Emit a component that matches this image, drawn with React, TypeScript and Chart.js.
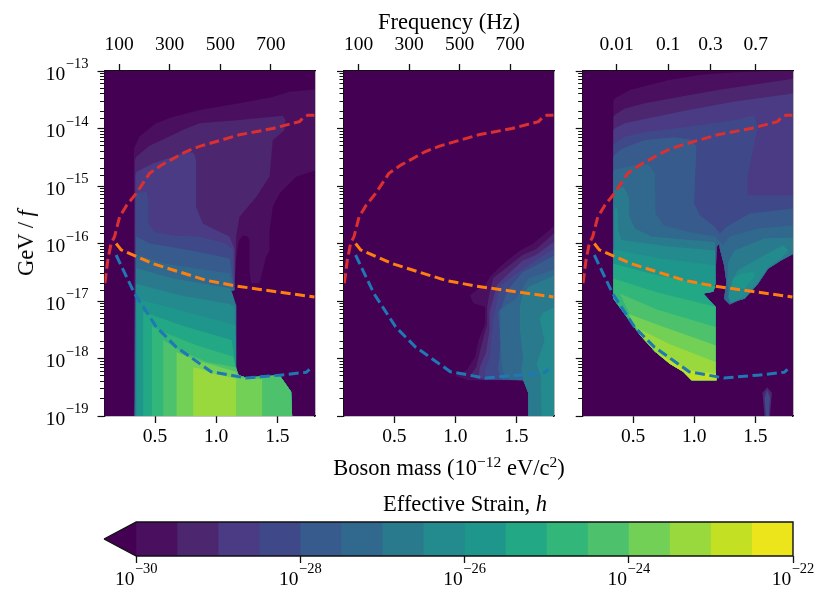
import React, { useEffect, useRef } from "react";
import { Chart, registerables } from "chart.js";
Chart.register(...registerables);

type P = number[];
const FONT = '"Liberation Serif","Times New Roman",serif';
const massRange = [0.087, 1.808];
const hzPerMass = 483.6;
const topHz = [100, 300, 500, 700];
const lifetimeAt = [0.365, 0.786, 1.133, 1.503];
const lifetimeLabels = ["0.01", "0.1", "0.3", "0.7"];
const massTicks = [0.5, 1.0, 1.5];
const couplingDecades = [-13, -14, -15, -16, -17, -18, -19];
const strainTicks = [-30, -28, -26, -24, -22];
const levelColors = ["#440154", "#4b0f5f", "#4c266f", "#4a3b84", "#3f4889", "#375b8d", "#30698d", "#2a7a8e", "#238a8d", "#1f968b", "#22a884", "#33b679", "#4ec16d", "#73d056", "#99d93e", "#c3e022", "#ede51b"];
const cbEdges = [-30, -29.5, -29, -28.5, -28, -27.5, -27, -26.5, -26, -25.5, -25, -24.5, -24, -23.5, -23, -22.5, -22];

const redLimit: P[] = [[0.09, -16.69], [0.114, -16.29], [0.141, -16.0], [0.169, -15.88], [0.21, -15.54], [0.27, -15.33], [0.346, -15.13], [0.455, -14.78], [0.55, -14.64], [0.755, -14.4], [0.864, -14.31], [1.19, -14.11], [1.463, -14.0], [1.681, -13.88], [1.708, -13.82], [1.749, -13.77], [1.803, -13.77]];
const orangeLimit: P[] = [[0.182, -16.0], [0.223, -16.11], [0.482, -16.35], [0.918, -16.64], [1.163, -16.74], [1.803, -16.93]];
const blueLimit: P[] = [[0.182, -16.2], [0.332, -16.87], [0.51, -17.45], [0.673, -17.8], [0.959, -18.23], [1.245, -18.34], [1.518, -18.29], [1.736, -18.24], [1.763, -18.19]];

// Panel 1
const p1Tail: P[] = [[1.15, -16.81], [1.062, -16.87], [1.163, -17.07], [1.163, -18.2], [1.185, -18.29], [1.245, -18.33], [1.518, -18.29], [1.613, -18.58], [1.621, -19]];
const p1Bands: [number, P[]][] = [
  [1, [[0.327, -19], [0.327, -14.35], [0.373, -14.14], [0.509, -13.91], [0.646, -13.8], [0.864, -13.68], [1.19, -13.56], [1.463, -13.45], [1.6, -13.36], [1.82, -13.32], [1.82, -14.72], [1.654, -14.84], [1.518, -15.13], [1.463, -15.36], [1.436, -15.77], [1.436, -16.12], [1.408, -16.23], [1.354, -16.69], [1.286, -16.69], [1.272, -16.46], [1.272, -15.94], [1.259, -15.88], [1.218, -15.86], [1.19, -15.94], [1.177, -16.05], [1.163, -16.29], ...p1Tail]],
  [2, [[0.33, -19], [0.335, -14.55], [0.346, -14.49], [0.455, -14.3], [0.755, -14.0], [0.864, -13.91], [1.19, -13.85], [1.545, -13.78], [1.567, -13.85], [1.558, -14.03], [1.463, -14.2], [1.436, -14.84], [1.327, -15.19], [1.19, -15.54], [1.163, -15.88], [1.16, -16.17], ...p1Tail]],
  [3, [[0.333, -19], [0.34, -14.8], [0.351, -14.75], [0.482, -14.61], [0.646, -14.49], [0.755, -14.4], [0.815, -14.42], [0.836, -14.55], [0.836, -15.36], [0.891, -15.65], [1.0, -15.77], [1.109, -15.88], [1.15, -16.09], ...p1Tail]],
  [4, [[0.333, -19], [0.34, -15.12], [0.433, -15.1], [0.447, -15.3], [0.447, -15.65], [0.496, -15.8], [0.646, -15.86], [0.864, -15.88], [1.08, -16.0], [1.136, -16.11], ...p1Tail]],
  [5, [[0.335, -19], [0.345, -15.88], [0.458, -16.0], [0.8, -16.12], [1.112, -16.26], [1.135, -16.6], ...p1Tail]],
  [6, [[0.335, -19], [0.345, -16.2], [0.595, -16.35], [1.112, -16.52], [1.13, -16.7], ...p1Tail]],
  [7, [[0.335, -19], [0.345, -16.43], [0.649, -16.61], [1.112, -16.78], [1.13, -16.85], ...p1Tail.slice(2)]],
  [8, [[0.345, -19], [0.345, -16.7], [0.704, -16.9], [1.112, -17.05], [1.15, -17.1], ...p1Tail.slice(3)]],
  [9, [[0.35, -19], [0.35, -16.96], [0.704, -17.16], [1.112, -17.39], [1.155, -17.42], ...p1Tail.slice(3)]],
  [10, [[0.404, -19], [0.404, -17.19], [0.758, -17.45], [1.127, -17.68], ...p1Tail.slice(3)]],
  [11, [[0.475, -19], [0.475, -17.44], [0.567, -17.54], [0.84, -17.77], [1.14, -17.97], ...p1Tail.slice(3)]],
  [12, [[0.567, -19], [0.567, -17.68], [0.676, -17.83], [0.922, -18.06], [1.163, -18.15], ...p1Tail.slice(4)]],
  [13, [[0.676, -19], [0.676, -17.89], [0.84, -18.03], [1.163, -18.23], [1.185, -18.33], [1.376, -18.36], [1.376, -19]]],
  [14, [[0.813, -19], [0.813, -18.15], [0.867, -18.18], [0.976, -18.26], [1.163, -18.35], [1.163, -19]]],
];

// Panel 2
const p2Bottom: P[] = [[1.556, -18.38], [1.597, -18.6], [1.597, -19], [1.82, -19]];
const p2Bands: [number, P[]][] = [
  [1, [[1.82, -15.68], [1.638, -16.0], [1.529, -16.12], [1.392, -16.35], [1.283, -16.58], [1.243, -16.72], [1.174, -16.81], [1.12, -16.9], [1.147, -17.04], [1.243, -17.1], [1.243, -17.39], [1.19, -17.68], [1.161, -17.97], [1.093, -18.2], [0.997, -18.3], [1.1, -18.38], ...p2Bottom]],
  [2, [[1.82, -15.8], [1.66, -16.1], [1.55, -16.2], [1.4, -16.45], [1.31, -16.6], [1.28, -16.85], [1.26, -17.1], [1.26, -17.4], [1.21, -17.8], [1.17, -18.15], [1.12, -18.3], [1.2, -18.37], ...p2Bottom]],
  [3, [[1.82, -15.95], [1.66, -16.2], [1.55, -16.3], [1.42, -16.55], [1.34, -16.72], [1.31, -16.95], [1.28, -17.2], [1.28, -17.5], [1.25, -17.9], [1.2, -18.15], [1.19, -18.33], [1.25, -18.37], ...p2Bottom]],
  [4, [[1.82, -16.08], [1.65, -16.3], [1.45, -16.6], [1.36, -16.75], [1.34, -17.0], [1.31, -17.3], [1.3, -17.6], [1.28, -18.0], [1.24, -18.2], [1.25, -18.36], ...p2Bottom]],
  [5, [[1.82, -16.2], [1.55, -16.5], [1.45, -16.75], [1.41, -16.9], [1.38, -17.1], [1.35, -17.2], [1.37, -17.7], [1.35, -18.2], [1.38, -18.37], ...p2Bottom]],
  [6, [[1.82, -16.45], [1.6, -16.6], [1.5, -16.95], [1.37, -17.15], [1.365, -17.6], [1.38, -18.1], [1.4, -18.3], [1.45, -18.36], ...p2Bottom]],
  [7, [[1.82, -16.55], [1.6, -16.75], [1.55, -16.9], [1.529, -17.1], [1.529, -17.5], [1.555, -18.0], [1.54, -18.2], ...p2Bottom]],
  [8, [[1.82, -17.1], [1.72, -17.2], [1.69, -17.3], [1.73, -17.7], [1.665, -18.1], [1.7, -18.3], [1.706, -19], [1.82, -19]]],
];

// Panel 3
const p3Lobe: P[] = [[1.82, -16.17], [1.713, -16.29], [1.604, -16.44], [1.522, -16.7], [1.413, -16.96], [1.359, -16.99], [1.29, -17.06], [1.244, -16.96], [1.263, -16.67], [1.244, -16.38], [1.209, -16.09], [1.205, -16.0], [1.182, -16.06]];
const p3Diag: P[] = [[1.174, -18.2], [1.182, -18.38], [0.978, -18.38], [0.91, -18.23], [0.8, -18.09], [0.678, -17.88], [0.556, -17.59], [0.338, -16.96]];
const p3Notch: P[] = [[1.174, -16.69], [1.155, -16.84], [1.073, -16.87], [1.174, -17.1]];
const p3Bands: [number, P[]][] = [
  [1, [[0.338, -13.5], [0.36, -13.46], [0.473, -13.33], [0.801, -13.15], [1.073, -13.06], [1.346, -13.02], [1.618, -13.0], [1.82, -12.98], ...p3Lobe, ...p3Notch, ...p3Diag]],
  [2, [[0.338, -13.8], [0.345, -13.77], [0.432, -13.65], [0.596, -13.56], [0.95, -13.42], [1.195, -13.33], [1.82, -13.13], ...p3Lobe, ...p3Notch, ...p3Diag]],
  [3, [[0.338, -14.03], [0.345, -14.0], [0.432, -13.91], [0.623, -13.82], [0.95, -13.68], [1.332, -13.53], [1.82, -13.39], ...p3Lobe, ...p3Notch, ...p3Diag]],
  [4, [[0.338, -14.3], [0.345, -14.26], [0.432, -14.14], [0.596, -14.06], [0.95, -13.97], [1.332, -13.85], [1.49, -13.77], [1.52, -13.97], [1.436, -14.84], [1.436, -15.16], [1.82, -15.16], ...p3Lobe, ...p3Notch, ...p3Diag]],
  [5, [[0.338, -14.5], [0.345, -14.46], [0.405, -14.35], [0.596, -14.2], [0.841, -14.15], [0.991, -14.2], [1.018, -14.32], [0.999, -15.3], [1.046, -15.51], [1.168, -15.71], [1.209, -15.83], [1.27, -15.7], [1.455, -15.48], [1.82, -15.39], ...p3Lobe, ...p3Notch, ...p3Diag]],
  [6, [[0.338, -14.75], [0.345, -14.72], [0.487, -14.65], [0.623, -14.62], [0.678, -14.78], [0.683, -15.48], [0.746, -15.68], [0.95, -15.8], [1.17, -15.88], [1.236, -16.03], [1.29, -15.88], [1.522, -15.74], [1.82, -15.68], ...p3Lobe, ...p3Notch, ...p3Diag]],
  [7, [[0.338, -15.09], [0.345, -15.07], [0.419, -15.01], [0.465, -15.19], [0.465, -15.51], [0.514, -15.74], [0.65, -15.88], [1.17, -15.98], ...p3Notch, ...p3Diag]],
  [7, [[1.82, -15.9], [1.577, -15.91], [1.331, -16.12], [1.277, -16.32], [1.27, -16.67], [1.29, -17.04], [1.359, -16.99], [1.413, -16.96], [1.522, -16.7], [1.604, -16.44], [1.713, -16.29], [1.82, -16.17]]],
  [8, [[0.345, -16.9], [0.345, -15.39], [0.37, -15.39], [0.378, -15.77], [0.405, -15.94], [0.8, -16.05], [1.17, -16.12], ...p3Notch, ...p3Diag]],
  [8, [[1.77, -16.12], [1.727, -16.03], [1.55, -16.23], [1.359, -16.46], [1.304, -16.67], [1.277, -16.93], [1.3, -17.03], [1.359, -16.98], [1.41, -16.94], [1.52, -16.68], [1.6, -16.42], [1.71, -16.27]]],
  [9, [[0.338, -16.1], [0.7, -16.25], [1.17, -16.38], ...p3Notch, ...p3Diag]],
  [9, [[1.495, -16.49], [1.386, -16.52], [1.318, -16.61], [1.304, -16.78], [1.413, -16.78], [1.495, -16.58]]],
  [10, [[0.338, -16.35], [0.7, -16.55], [1.174, -16.75], ...p3Notch.slice(1), ...p3Diag]],
  [11, [[0.338, -16.61], [0.7, -16.85], [1.174, -17.1], ...p3Diag]],
  [12, [[0.39, -16.87], [0.7, -17.15], [1.174, -17.45], ...p3Diag.slice(0, 7)]],
  [13, [[0.46, -17.22], [0.75, -17.45], [1.174, -17.77], ...p3Diag.slice(0, 7)]],
  [14, [[0.54, -17.48], [0.8, -17.75], [1.174, -18.06], ...p3Diag.slice(0, 7)]],
  [15, [[0.7, -17.9], [0.85, -18.1], [1.0, -18.22], [1.176, -18.26], ...p3Diag.slice(1, 5)]],
  [2, [[1.558, -18.6], [1.597, -18.5], [1.635, -18.6], [1.62, -19], [1.575, -19]]],
  [4, [[1.575, -18.68], [1.597, -18.55], [1.62, -18.68], [1.61, -19], [1.585, -19]]],
];

const pow = (v: number) => Math.pow(10, v);
const toXY = (pts: P[]) => pts.map((p) => ({ x: p[0], y: pow(p[1]) }));

const polyDs = (color: string, pts: any[], order: number) => ({ type: "scatter", data: pts, showLine: true, fill: "shape", backgroundColor: color, borderColor: color, borderWidth: 0, borderDash: [4, 0], pointRadius: 0, order });
const lineDs = (color: string, pts: P[]) => ({ type: "scatter", data: toXY(pts), showLine: true, fill: false, borderColor: color, borderWidth: 3, borderDash: [10, 4.5], pointRadius: 0, order: 0 });

const BORDER = { color: "#111", width: 1.3 };
const panelBox = [[104.5, 315], [344, 554], [582.7, 793]];
const PTOP = 71, PBOTTOM = 416;

const powerText = (ctx: any, e: number, x: number, y: number, center: boolean) => {
  ctx.save();
  ctx.fillStyle = "#000";
  ctx.textBaseline = "middle";
  ctx.textAlign = "left";
  const exp = "\u2212" + Math.abs(e);
  ctx.font = `14.5px ${FONT}`;
  const we = ctx.measureText(exp).width;
  ctx.font = `19.5px ${FONT}`;
  const wb = ctx.measureText("10").width;
  const x0 = center ? x - (wb + we + 0.5) / 2 : x - (wb + we + 0.5);
  ctx.fillText("10", x0, y + 3.5);
  ctx.font = `14.5px ${FONT}`;
  ctx.fillText(exp, x0 + wb + 0.5, y - 6.5);
  ctx.restore();
};

function panelConfig(idx: number, bands: [number, P[]][]) {
  const [left, right] = panelBox[idx];
  const LW = 60, TH = 34, BH = 34;
  const datasets: any[] = [polyDs(levelColors[0], toXY([[0, -20], [2, -20], [2, -12], [0, -12]]), 1000)];
  bands.forEach(([lvl, pts]) => datasets.push(polyDs(levelColors[lvl], toXY(pts), 100 - lvl)));
  datasets.push(lineDs("#ff7f0e", orangeLimit), lineDs("#1f77b4", blueLimit), lineDs("#dc2f2f", redLimit));
  const tickFont = { family: FONT, size: 19.5 };
  return {
    type: "scatter",
    data: { datasets },
    plugins: idx === 0 ? [{
      id: "yPowers",
      afterDraw(chart: any) {
        const s = chart.scales.y;
        couplingDecades.forEach((e) => powerText(chart.ctx, e, s.right - 16, s.getPixelForValue(pow(e)), false));
      },
    }] : [],
    options: {
      responsive: false, animation: false, events: [],
      layout: { padding: { left: left - LW, right: 831 - right, top: PTOP - TH, bottom: 606 - PBOTTOM - BH } },
      plugins: { legend: { display: false }, tooltip: { enabled: false } },
      scales: {
        x: {
          type: "linear", position: "bottom", min: massRange[0], max: massRange[1],
          afterFit: (s: any) => { s.height = BH; },
          afterBuildTicks: (s: any) => { s.ticks = massTicks.map((v) => ({ value: v })); },
          border: BORDER,
          grid: { drawOnChartArea: false, tickLength: 7, tickWidth: 1.3, tickColor: "#111" },
          ticks: { font: tickFont, color: "#000", padding: 2, maxRotation: 0, autoSkip: false, callback: (v: number) => Number(v).toFixed(1) },
        },
        xTop: {
          type: "linear", position: "top", min: massRange[0], max: massRange[1],
          afterFit: (s: any) => { s.height = TH; },
          afterBuildTicks: (s: any) => { s.ticks = (idx === 2 ? lifetimeAt : topHz.map((h) => h / hzPerMass)).map((v) => ({ value: v })); },
          border: BORDER,
          grid: { drawOnChartArea: false, tickLength: 7, tickWidth: 1.3, tickColor: "#111" },
          ticks: { font: tickFont, color: "#000", padding: 7, maxRotation: 0, autoSkip: false, callback: (_v: number, i: number) => (idx === 2 ? lifetimeLabels[i] : String(topHz[i])) },
        },
        y: {
          type: "logarithmic", position: "left", min: 1e-19, max: 1e-13,
          afterFit: (s: any) => { s.width = LW; },
          border: BORDER,
          grid: {
            drawOnChartArea: false, tickLength: 7, tickWidth: 1.2, tickColor: "#111",
            tickBorderDash: (c: any) => { const l = Math.log10(c.tick.value); return Math.abs(l - Math.round(l)) < 1e-6 ? [] : [0, 2.5, 5, 100]; },
          },
          ticks: { display: false, autoSkip: false },
        },
        yRight: {
          type: "linear", position: "right", min: 0, max: 1,
          afterFit: (s: any) => { s.width = 0; },
          border: BORDER, grid: { drawOnChartArea: false, drawTicks: false }, ticks: { display: false },
        },
      },
    },
  };
}

function colorbarConfig() {
  const datasets: any[] = [];
  const end = pow(-22);
  cbEdges.slice(0, -1).forEach((lo, i) => {
    datasets.push(polyDs(levelColors[i + 1], [{ x: pow(lo), y: 0 }, { x: end, y: 0 }, { x: end, y: 1 }, { x: pow(lo), y: 1 }], 50 - i));
  });
  const tip = pow(-30.393);
  datasets.push(polyDs(levelColors[0], [{ x: tip, y: 0.5 }, { x: pow(-30), y: 1 }, { x: pow(-29.9), y: 1 }, { x: pow(-29.9), y: 0 }, { x: pow(-30), y: 0 }], 60));
  datasets.push({ type: "scatter", data: [{ x: tip, y: 0.5 }, { x: pow(-30), y: 1 }, { x: pow(-22), y: 1 }, { x: pow(-22), y: 0 }, { x: pow(-30), y: 0 }, { x: tip, y: 0.5 }], showLine: true, fill: false, borderColor: "#111", borderWidth: 1.4, pointRadius: 0, clip: false, order: 0 });
  return {
    type: "scatter",
    data: { datasets },
    plugins: [{
      id: "cbPowers",
      afterDraw(chart: any) {
        const s = chart.scales.x;
        strainTicks.forEach((e) => powerText(chart.ctx, e, s.getPixelForValue(pow(e)), 576, true));
      },
    }],
    options: {
      responsive: false, animation: false, events: [],
      layout: { padding: { left: 104, right: 831 - 793, top: 522, bottom: 606 - 556 - 40 } },
      plugins: { legend: { display: false }, tooltip: { enabled: false } },
      scales: {
        x: {
          type: "logarithmic", position: "bottom", min: tip, max: 1e-22,
          afterFit: (s: any) => { s.height = 40; },
          afterBuildTicks: (s: any) => { s.ticks = strainTicks.map((e) => ({ value: pow(e) })); },
          border: { display: false },
          grid: { drawOnChartArea: false, tickLength: 7, tickWidth: 1.3, tickColor: "#111" },
          ticks: { display: false, autoSkip: false },
        },
        y: { type: "linear", min: 0, max: 1, display: false },
      },
    },
  };
}

const canvasStyle: React.CSSProperties = { position: "absolute", left: 0, top: 0 };
const labelStyle: React.CSSProperties = { position: "absolute", fontFamily: FONT, fontSize: 22.5, color: "#000", whiteSpace: "nowrap", transform: "translate(-50%,-50%)" };
const supStyle: React.CSSProperties = { fontSize: 15.5, lineHeight: 0 };

export default function App() {
  const refs = [useRef<HTMLCanvasElement>(null), useRef<HTMLCanvasElement>(null), useRef<HTMLCanvasElement>(null), useRef<HTMLCanvasElement>(null)];
  useEffect(() => {
    const cfgs = [panelConfig(0, p1Bands), panelConfig(1, p2Bands), panelConfig(2, p3Bands), colorbarConfig()];
    const charts = cfgs.map((c, i) => new Chart(refs[i].current as any, c as any));
    return () => charts.forEach((c) => c.destroy());
  }, []);
  return (
    <div style={{ position: "fixed", left: 0, top: 0, width: 831, height: 606, background: "#fff", overflow: "hidden" }}>
      {refs.map((r, i) => <canvas key={i} ref={r} width={831} height={606} style={canvasStyle} />)}
      <div style={{ ...labelStyle, left: 449, top: 22 }}>Frequency (Hz)</div>
      <div style={{ ...labelStyle, left: 26, top: 243, transform: "translate(-50%,-50%) rotate(-90deg)" }}>GeV / <i>f</i></div>
      <div style={{ ...labelStyle, left: 449, top: 468 }}>Boson mass (10<sup style={supStyle}>−12</sup> eV/c<sup style={supStyle}>2</sup>)</div>
      <div style={{ ...labelStyle, left: 465, top: 504 }}>Effective Strain, <i>h</i></div>
    </div>
  );
}
